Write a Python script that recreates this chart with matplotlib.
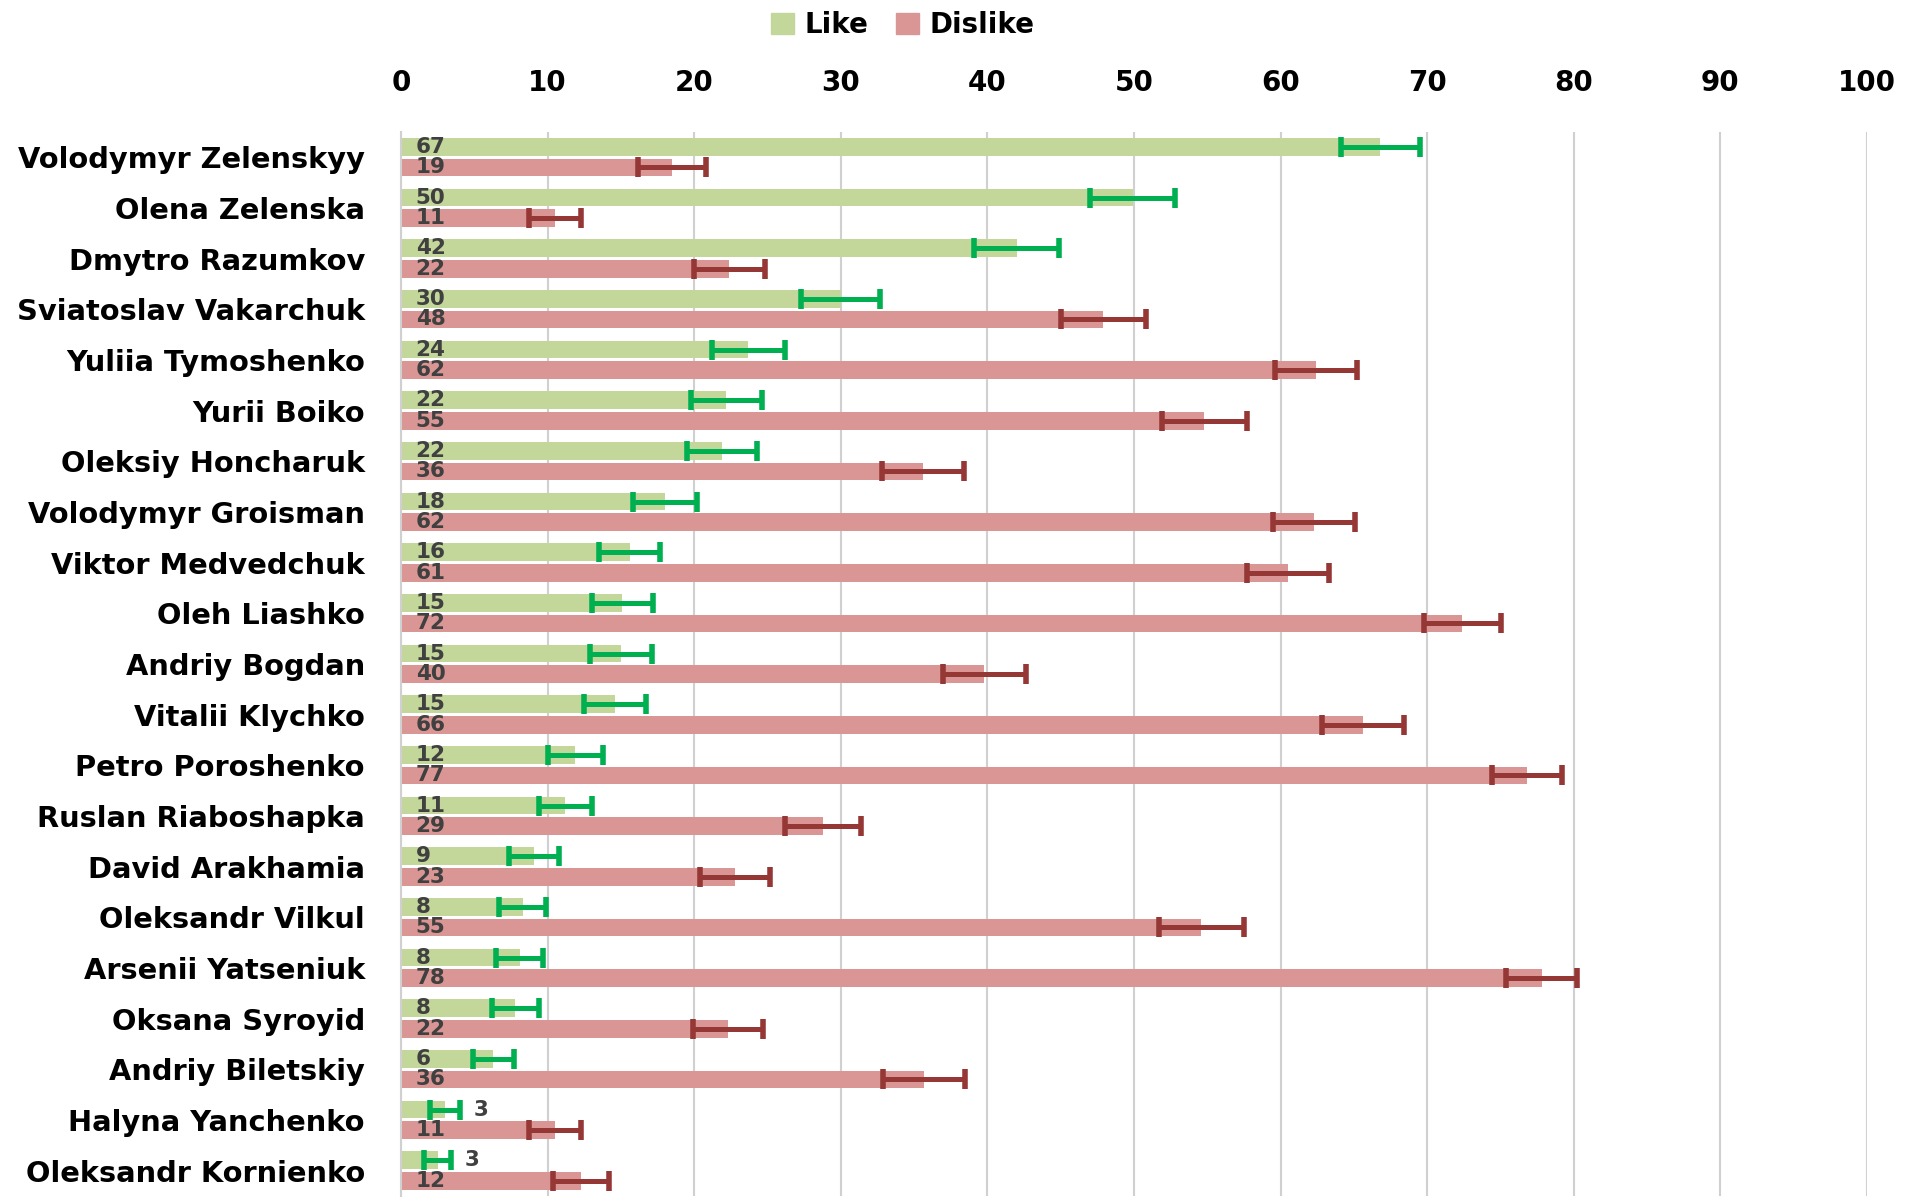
import matplotlib
matplotlib.use("Agg")
import matplotlib.pyplot as plt
import numpy as np
from matplotlib.patches import Patch

names = ["Volodymyr Zelenskyy", "Olena Zelenska", "Dmytro Razumkov", "Sviatoslav Vakarchuk",
         "Yuliia Tymoshenko", "Yurii Boiko", "Oleksiy Honcharuk", "Volodymyr Groisman",
         "Viktor Medvedchuk", "Oleh Liashko", "Andriy Bogdan", "Vitalii Klychko",
         "Petro Poroshenko", "Ruslan Riaboshapka", "David Arakhamia", "Oleksandr Vilkul",
         "Arsenii Yatseniuk", "Oksana Syroyid", "Andriy Biletskiy", "Halyna Yanchenko",
         "Oleksandr Kornienko"]

like_vals = [66.8, 49.9, 42.0, 30.0, 23.7, 22.2, 21.9, 18.0, 15.6, 15.1, 15.0, 14.6,
             11.9, 11.2, 9.1, 8.3, 8.1, 7.8, 6.3, 3.0, 2.5]
like_labels = ["67", "50", "42", "30", "24", "22", "22", "18", "16", "15", "15", "15",
               "12", "11", "9", "8", "8", "8", "6", "3", "3"]
like_err = [2.7, 2.9, 2.9, 2.7, 2.5, 2.4, 2.4, 2.2, 2.1, 2.1, 2.1, 2.1,
            1.9, 1.8, 1.7, 1.6, 1.6, 1.6, 1.4, 1.0, 0.9]

dislike_vals = [18.5, 10.5, 22.4, 47.9, 62.4, 54.8, 35.6, 62.3, 60.5, 72.4, 39.8, 65.6,
                76.8, 28.8, 22.8, 54.6, 77.8, 22.3, 35.7, 10.5, 12.3]
dislike_labels = ["19", "11", "22", "48", "62", "55", "36", "62", "61", "72", "40", "66",
                  "77", "29", "23", "55", "78", "22", "36", "11", "12"]
dislike_err = [2.3, 1.8, 2.4, 2.9, 2.8, 2.9, 2.8, 2.8, 2.8, 2.6, 2.8, 2.8,
               2.4, 2.6, 2.4, 2.9, 2.4, 2.4, 2.8, 1.8, 1.9]

xticks = [0, 10, 20, 30, 40, 50, 60, 70, 80, 90, 100]

LIKE_C = "#C4D79B"
DIS_C = "#DA9694"
LIKE_E = "#00B050"
DIS_E = "#953735"
FONT = "DejaVu Sans"
LBL_C = "#404040"

fig = plt.figure(figsize=(19.21, 12.03), dpi=100)
ax = fig.add_axes([401/1921, 1 - 1196/1203, (1867-401)/1921, (1196-132)/1203])

n = len(names)
idx = np.arange(n)
h = 0.35
y_like = idx + 0.295
y_dis = idx + 0.70

ax.barh(y_like, like_vals, height=h, color=LIKE_C, zorder=2)
ax.barh(y_dis, dislike_vals, height=h, color=DIS_C, zorder=2)
ax.errorbar(like_vals, y_like, xerr=like_err, fmt="none", ecolor=LIKE_E,
            elinewidth=3.6, capsize=7, capthick=4, zorder=3)
ax.errorbar(dislike_vals, y_dis, xerr=dislike_err, fmt="none", ecolor=DIS_E,
            elinewidth=3.6, capsize=7, capthick=4, zorder=3)

lbl_kw = dict(textcoords="offset points", ha="left", va="center", fontsize=15.5,
              fontweight="bold", color=LBL_C, family=FONT, zorder=4)
for v, e, lab, y in zip(like_vals, like_err, like_labels, y_like):
    if v < 5:
        ax.annotate(lab, (v + e, y), xytext=(10, 0), **lbl_kw)
    else:
        ax.annotate(lab, (0, y), xytext=(10.5, 0), **lbl_kw)
for v, lab, y in zip(dislike_vals, dislike_labels, y_dis):
    ax.annotate(lab, (0, y), xytext=(10.5, 0), **lbl_kw)

ax.set_xlim(0, 100)
ax.set_ylim(n, 0)
ax.set_xticks(xticks)
ax.set_xticklabels([str(t) for t in xticks], fontsize=20, fontweight="bold", family=FONT)
ax.xaxis.tick_top()
ax.tick_params(axis="x", length=0, pad=25)
ax.set_yticks(idx + 0.5)
ax.set_yticklabels(names, fontsize=20.8, fontweight="bold", family=FONT)
ax.tick_params(axis="y", length=0, pad=26)
ax.grid(axis="x", color="#D0D0D0", linewidth=1.5, zorder=0)
ax.set_axisbelow(True)
for s in ["top", "right", "bottom"]:
    ax.spines[s].set_visible(False)
ax.spines["left"].set_color("#D0D0D0")
ax.spines["left"].set_linewidth(1.5)

handles = [Patch(color=LIKE_C, label="Like"), Patch(color=DIS_C, label="Dislike")]
fig.legend(handles=handles, loc="center", bbox_to_anchor=(903/1921, 1 - 25/1203), ncol=2,
           frameon=False, prop={"family": FONT, "weight": "bold", "size": 20},
           handlelength=0.8, handleheight=0.8, handletextpad=0.4, columnspacing=1.0)

fig.savefig("out.png", dpi=100)
